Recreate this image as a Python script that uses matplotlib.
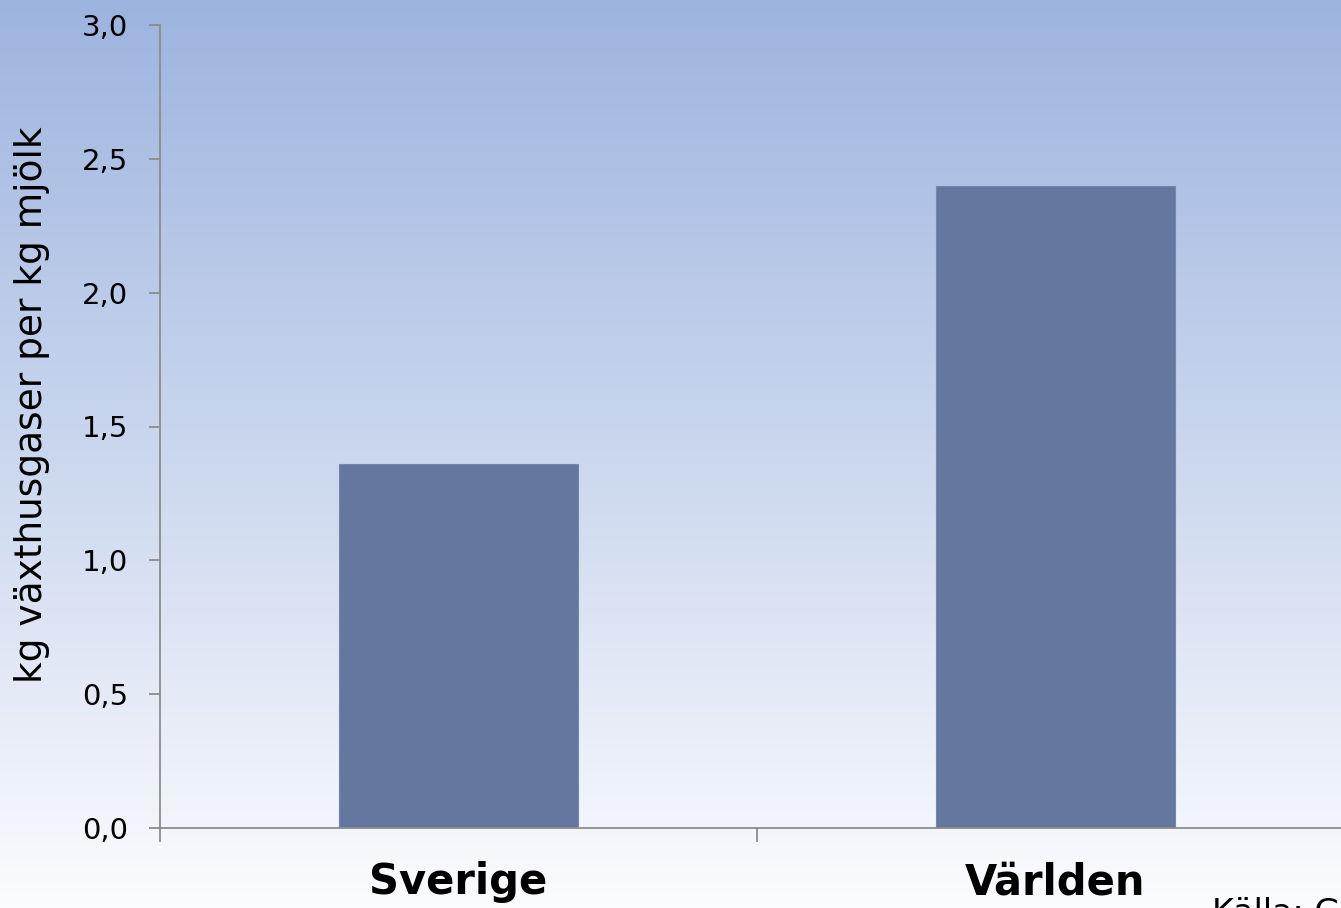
import numpy as np
import matplotlib
matplotlib.use("Agg")
import matplotlib.pyplot as plt
from matplotlib.colors import LinearSegmentedColormap
from matplotlib.ticker import FuncFormatter, FixedLocator

# Data
categories = ["Sverige", "Världen"]
values = [1.36, 2.40]
y_ticks = [0.0, 0.5, 1.0, 1.5, 2.0, 2.5, 3.0]
y_label = "kg växthusgaser per kg mjölk"
source_text = "Källa: G"

BAR_COLOR = "#64779e"
AXIS_COLOR = "#8c8c8c"

plt.rcParams['font.family'] = ['DejaVu Sans']

W, H = 1341, 908
fig = plt.figure(figsize=(W / 100, H / 100), dpi=100)

# gradient background over the whole figure
bg = fig.add_axes([0, 0, 1, 1], zorder=-10)
grad = np.linspace(0, 1, 256).reshape(-1, 1)
cmap = LinearSegmentedColormap.from_list("bg", ["#9db4df", "#cbd7ee", "#fbfcfe"])
bg.imshow(grad, aspect="auto", cmap=cmap, extent=[0, 1, 0, 1], origin="upper")
bg.axis("off")

# plot area (runs slightly past the right edge like the original)
ax = fig.add_axes([160 / W, 80 / H, 1194 / W, 803 / H])
ax.set_facecolor("none")

x = np.arange(len(categories)) + 0.5
ax.bar(x, values, width=0.4, color=BAR_COLOR, edgecolor="#7586ab", linewidth=0.8, zorder=2)

ax.set_xlim(0, len(categories))
ax.set_ylim(0, 3.0)

for s in ["top", "right"]:
    ax.spines[s].set_visible(False)
for s in ["left", "bottom"]:
    ax.spines[s].set_color(AXIS_COLOR)
    ax.spines[s].set_linewidth(1.3)

ax.yaxis.set_major_locator(FixedLocator(y_ticks))
ax.yaxis.set_major_formatter(FuncFormatter(lambda v, _: f"{v:.1f}".replace(".", ",")))
ax.tick_params(axis="y", direction="out", length=8, width=1.3, color=AXIS_COLOR,
               labelsize=21, pad=15, labelcolor="black")

# category boundaries as major ticks, names as minor tick labels
ax.set_xticks(np.arange(len(categories) + 1))
ax.set_xticklabels([])
ax.set_xticks(x, minor=True)
ax.set_xticklabels(categories, minor=True, fontsize=30, fontweight="bold")
ax.tick_params(axis="x", which="major", direction="out", length=10, width=1.3, color=AXIS_COLOR)
ax.tick_params(axis="x", which="minor", length=0, pad=24)

ax.set_ylabel(y_label, fontsize=27)
ax.yaxis.set_label_coords(-0.092, 0.527)

# source note, cut off by the bottom/right edge as in the original
fig.text(1212 / W, -15 / H, source_text, fontsize=24, ha="left", va="baseline")

fig.savefig("out.png", dpi=100)
